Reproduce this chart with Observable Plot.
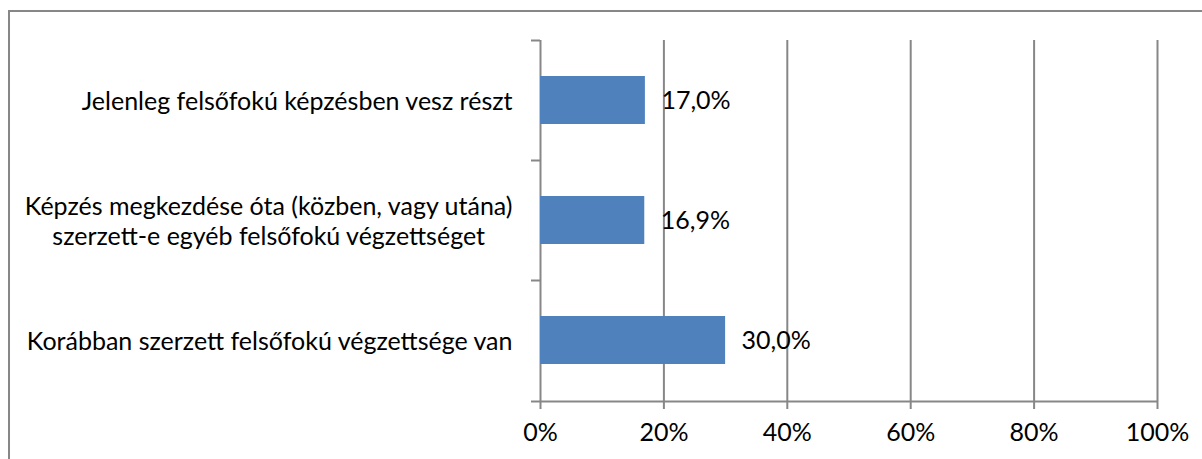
<!DOCTYPE html>
<html><head><meta charset="utf-8">
<script src="https://cdn.jsdelivr.net/npm/d3@7"></script>
<script src="https://cdn.jsdelivr.net/npm/@observablehq/plot@0.6"></script>
<style>
html,body{margin:0;padding:0;background:#fff;}
#wrap{position:relative;width:1202px;height:459px;overflow:hidden;background:#fff;}
#border{position:absolute;left:8px;top:10px;width:1300px;height:600px;border:2px solid #878787;box-sizing:border-box;}
#wrap svg{position:absolute;left:0;top:0;}
</style></head><body><div id="wrap"><div id="border"></div></div>
<script>
const categories = [
  "Jelenleg felsőfokú képzésben vesz részt",
  "Képzés megkezdése óta (közben, vagy utána)\nszerzett-e egyéb felsőfokú végzettséget",
  "Korábban szerzett felsőfokú végzettsége van"
];
const values = [17.0, 16.9, 30.0];
const xTicks = [0, 20, 40, 60, 80, 100];
const tickLabels = ["0%", "20%", "40%", "60%", "80%", "100%"];

const data = categories.map((c, i) => ({category: c, value: values[i]}));
const FONT = "Lato, Carlito, sans-serif";
const FS = 25;
const GRAY = "#878787";
const last = categories[categories.length - 1];

const chart = Plot.plot({
  width: 1202, height: 459,
  marginLeft: 540, marginRight: 45, marginTop: 40, marginBottom: 59,
  style: {fontFamily: FONT, fontSize: FS + "px", color: "#000", background: "transparent", overflow: "visible"},
  x: {domain: [0, 100], axis: null, label: null},
  y: {domain: categories, paddingInner: 0.6, paddingOuter: 0.3, axis: null, label: null},
  marks: [
    Plot.ruleX(xTicks.slice(1), {stroke: GRAY, strokeWidth: 2}),
    Plot.ruleX([0], {stroke: GRAY, strokeWidth: 2}),
    Plot.ruleY(categories, {y: d => d, x1: 0, x2: 0, insetLeft: -9, dy: -60, stroke: GRAY, strokeWidth: 2}),
    Plot.ruleY([last], {y: d => d, x1: 0, x2: 100, insetLeft: -9, dy: 61, stroke: GRAY, strokeWidth: 2}),
    Plot.axisX({ticks: xTicks, tickFormat: (d, i) => tickLabels[i], tickSize: 9, tickPadding: 14, label: null, stroke: GRAY, strokeWidth: 2, fill: "#000", fontSize: FS}),
    Plot.barX(data, {x: "value", y: "category", fill: "#4F81BD"}),
    Plot.text(data, {x: "value", y: "category", text: d => d.value.toFixed(1).replace(".", ",") + "%", textAnchor: "start", dx: 16, fill: "#000", fontSize: FS}),
    Plot.text(data, {x: 0, y: "category", text: "category", textAnchor: "end", dx: -28, lineHeight: 30 / FS, fill: "#000", fontSize: FS, className: "catlabels"})
  ]
});
document.getElementById("wrap").appendChild(chart);

// center multi-line category labels within their right-aligned block
chart.querySelectorAll(".catlabels text").forEach(t => {
  const spans = t.querySelectorAll("tspan");
  if (spans.length > 1) {
    let maxW = 0;
    spans.forEach(s => { maxW = Math.max(maxW, s.getComputedTextLength()); });
    t.setAttribute("text-anchor", "middle");
    const tr = t.getAttribute("transform") || "";
    t.setAttribute("transform", tr + ` translate(${-maxW / 2},0)`);
  }
});
</script>
</body></html>
